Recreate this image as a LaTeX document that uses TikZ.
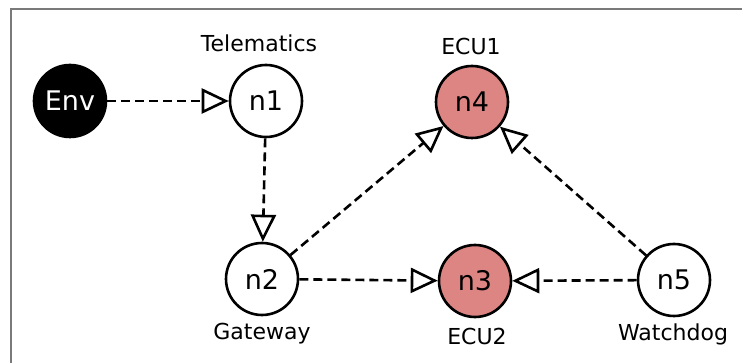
\documentclass[tikz,border=0pt]{standalone}
\usepackage{fontspec}
\setmainfont{DejaVu Sans}
\usetikzlibrary{arrows.meta}
\definecolor{ecu}{HTML}{DC8583}
\definecolor{frame}{HTML}{7A7A7A}
\begin{document}
\begin{tikzpicture}[x=1pt,y=-1pt,
  state/.style={circle,draw=black,line width=2.6pt,minimum size=72pt,inner sep=0pt,fill=white,font=\fontsize{27}{27}\selectfont},
  envnode/.style={state,fill=black,text=white},
  ecunode/.style={state,fill=ecu},
  lbl/.style={anchor=base,inner sep=0pt,font=\fontsize{22}{22}\selectfont},
  flow/.style={line width=2.6pt,dash pattern=on 9pt off 5pt,-{Triangle[open,length=27pt,width=25pt,line width=2.6pt]}}]
\useasboundingbox (0,0) rectangle (742,363);
\draw[frame,line width=1.3pt] (11,9) rectangle (760,380);
\node[envnode] (env) at (70,101) {Env};
\node[state] (n1) at (266,101) {n1};
\node[ecunode] (n4) at (472,102) {n4};
\node[state] (n2) at (262,279) {n2};
\node[ecunode] (n3) at (475,281) {n3};
\node[state] (n5) at (674,280) {n5};
\node[lbl] (l1) at (259,52) {Telematics};
\node[lbl] (l4) at (471,55) {ECU1};
\node[lbl] (l2) at (262,340) {Gateway};
\node[lbl] (l3) at (477,345) {ECU2};
\node[lbl] (l5) at (673,341) {Watchdog};
\draw[flow] (env) -- (n1);
\draw[flow] (n1) -- (n2);
\draw[flow] (n2) -- (n4);
\draw[flow] (n2) -- (n3);
\draw[flow] (n5) -- (n3);
\draw[flow] (n5) -- (n4);
\end{tikzpicture}
\end{document}
